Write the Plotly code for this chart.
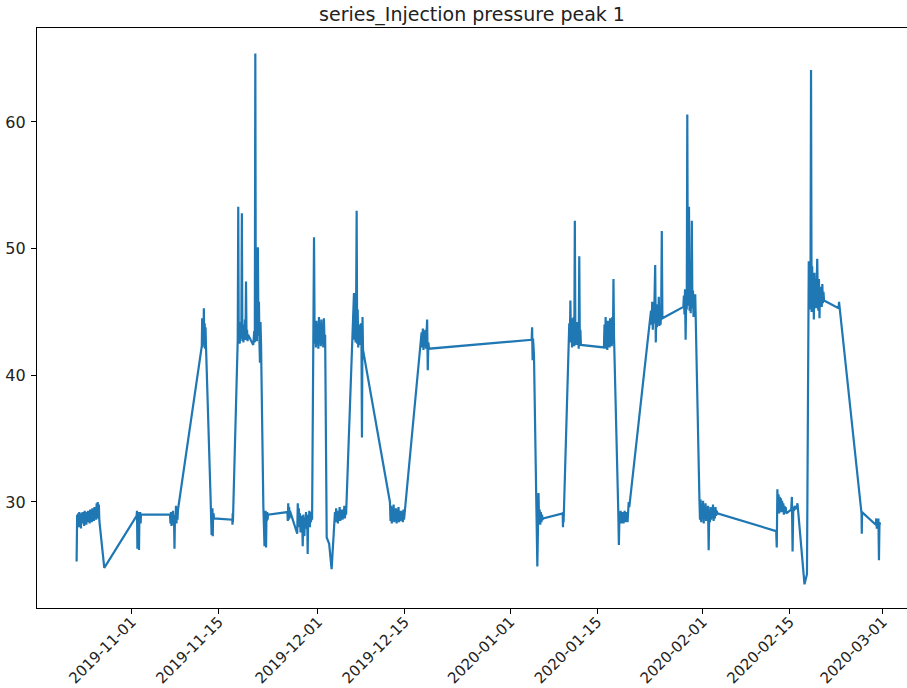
import pandas as pd
import plotly.graph_objects as go

title_text = "series_Injection pressure peak 1"
line_color = "#1f77b4"

# Each run: sensor readings sampled evenly between run_start and run_end
run_start = [
    "2019-10-23 03:00", "2019-10-27 14:00", "2019-11-01 19:00", "2019-11-07 04:00",
    "2019-11-12 07:00", "2019-11-13 17:30", "2019-11-17 05:00", "2019-11-18 02:00",
    "2019-11-20 14:00", "2019-11-22 05:00", "2019-11-26 02:00", "2019-11-27 16:00",
    "2019-11-30 09:00", "2019-12-02 10:00", "2019-12-03 18:00", "2019-12-06 19:30",
    "2019-12-12 14:30", "2019-12-17 17:00", "2020-01-04 10:30", "2020-01-05 08:30",
    "2020-01-09 10:30", "2020-01-10 12:00", "2020-01-16 02:00", "2020-01-18 09:30",
    "2020-01-23 16:00", "2020-01-28 21:00", "2020-01-31 11:00", "2020-02-12 20:00",
    "2020-02-15 06:00", "2020-02-17 09:30", "2020-02-18 02:00", "2020-02-22 21:30",
    "2020-02-26 14:00", "2020-02-28 21:00",
]
run_end = [
    "2019-10-26 19:00", "2019-10-27 14:00", "2019-11-02 12:00", "2019-11-08 11:00",
    "2019-11-12 23:00", "2019-11-14 06:00", "2019-11-17 08:00", "2019-11-19 18:00",
    "2019-11-21 20:00", "2019-11-22 23:00", "2019-11-26 12:00", "2019-11-30 01:30",
    "2019-12-02 04:00", "2019-12-03 05:00", "2019-12-05 13:00", "2019-12-08 06:30",
    "2019-12-14 21:00", "2019-12-18 21:30", "2020-01-04 19:30", "2020-01-06 07:00",
    "2020-01-09 14:00", "2020-01-12 09:00", "2020-01-17 17:00", "2020-01-20 04:00",
    "2020-01-25 12:00", "2020-01-30 19:00", "2020-02-03 08:30", "2020-02-14 11:00",
    "2020-02-16 09:00", "2020-02-17 19:00", "2020-02-20 13:00", "2020-02-22 23:00",
    "2020-02-26 16:00", "2020-02-29 13:30",
]
run_values = [
    [25.3, 29.0, 28.2, 29.1, 28.0, 29.2, 28.4, 29.0, 27.9, 29.1, 28.3, 29.2, 28.5, 29.0,
     28.1, 29.3, 28.6, 29.1, 28.2, 29.2, 28.4, 29.3, 28.7, 29.1, 28.3, 29.4, 28.6, 29.2,
     28.4, 29.5, 28.7, 29.3, 28.5, 29.6, 28.8, 29.4, 28.6, 29.9, 28.9, 30.0, 28.7, 29.8, 28.5],
    [24.8],
    [28.9, 29.3, 26.3, 29.1, 28.2, 29.2, 26.2, 28.9, 28.4, 29.2, 28.3, 29.0],
    [29.0, 28.3, 29.2, 28.1, 29.0, 28.4, 29.3, 28.2, 28.9, 26.3, 29.0, 28.5, 29.7, 28.3,
     29.5, 28.6, 29.4],
    [42.3, 44.5, 42.2, 44.3, 42.6, 45.3, 42.4, 44.1, 42.1, 43.8, 42.5],
    [30.0, 28.2, 29.6, 27.4, 29.2, 28.3, 29.5, 27.3, 28.9, 28.6, 29.1, 28.7],
    [28.6, 28.2, 29.1, 28.4, 28.9],
    [42.8, 53.3, 42.6, 43.8, 42.5, 44.2, 42.9, 43.5, 52.8, 42.7, 44.0, 42.6, 43.7, 42.9,
     44.4, 42.8, 47.4, 42.9, 43.6, 42.7, 43.2],
    [42.4, 42.9, 43.5, 42.6, 65.4, 43.0, 44.8, 42.7, 46.0, 50.1, 43.1, 45.8, 42.5, 41.0,
     44.2, 42.6],
    [29.7, 28.3, 29.4, 26.5, 29.1, 28.0, 29.3, 26.4, 28.8, 28.5, 29.2, 28.6, 29.0],
    [29.2, 28.5, 29.9, 28.6, 29.6, 28.7, 29.3],
    [27.5, 29.9, 28.0, 29.5, 28.3, 29.1, 27.6, 28.9, 28.2, 28.7, 26.5, 29.0, 28.1, 27.3,
     28.8, 27.9, 29.2, 28.2, 29.0, 25.9, 28.9, 28.3, 29.3, 28.0, 29.1, 28.4, 29.2, 28.6],
    [50.9, 42.5, 43.9, 42.2, 44.3, 42.6, 43.5, 42.1, 44.6, 42.8, 43.7, 42.3, 44.4, 42.5,
     43.9, 42.2, 44.5, 42.7, 43.2],
    [27.2, 26.7, 24.7],
    [29.2, 28.4, 29.5, 28.6, 29.3, 28.3, 29.1, 28.7, 29.6, 28.5, 29.2, 28.8, 29.4, 28.6,
     29.3, 28.9, 29.7, 28.7, 29.5, 29.0],
    [46.5, 42.8, 44.9, 42.6, 45.3, 53.0, 42.5, 45.2, 42.2, 44.0, 42.7, 43.6, 42.4, 44.1,
     42.9, 35.1, 44.6, 42.0],
    [30.0, 28.5, 29.7, 28.3, 29.4, 28.6, 29.8, 28.4, 29.2, 28.7, 29.5, 28.3, 29.0, 28.6,
     29.6, 28.4, 29.1, 28.5, 29.3, 28.8, 29.0, 28.4, 29.4, 28.6],
    [43.4, 42.2, 43.7, 42.0, 43.5, 42.4, 43.6, 42.1, 43.3, 44.4, 40.4, 42.6, 42.1],
    [42.8, 43.8, 41.2, 42.9, 42.4, 41.6],
    [24.9, 28.5, 30.7, 28.3, 29.4, 28.2, 29.2, 28.4, 29.0, 28.6, 28.7],
    [29.1, 28.0, 29.2, 28.4],
    [44.1, 42.6, 45.9, 43.0, 44.5, 42.2, 43.8, 42.7, 44.6, 42.3, 52.2, 42.9, 43.9, 42.4,
     44.2, 42.6, 43.5, 42.1, 49.4, 42.8, 43.6, 42.4],
    [42.2, 44.0, 42.1, 44.6, 42.5, 43.8, 42.0, 44.3, 42.7, 43.5, 42.2, 44.5, 42.4, 43.9,
     42.3, 44.6, 42.5, 47.6, 43.0],
    [29.2, 26.6, 28.9, 28.4, 29.3, 28.3, 29.1, 28.5, 29.2, 28.3, 28.8, 29.3, 28.4, 29.0,
     28.6, 29.2, 28.4, 28.9, 30.0, 29.6],
    [45.1, 44.0, 45.8, 43.6, 45.3, 44.1, 45.9, 48.7, 42.6, 45.0, 43.8, 45.6, 44.2, 46.2,
     43.9, 45.4, 44.0, 45.1, 51.4, 44.5],
    [45.4, 46.3, 44.8, 46.8, 42.8, 46.0, 45.2, 60.6, 45.5, 46.6, 53.3, 45.1, 46.9, 44.9,
     46.2, 52.2, 45.3, 46.7, 44.6, 46.1, 45.4, 46.4],
    [30.4, 28.6, 30.2, 28.4, 29.8, 28.9, 30.1, 28.3, 29.6, 28.7, 29.9, 28.5, 29.4, 28.8,
     29.7, 26.2, 29.3, 28.4, 29.6, 28.6, 29.2, 28.9, 29.8, 28.5, 29.4, 28.7, 29.6, 28.9,
     29.3, 29.1],
    [27.7, 26.4, 31.0, 29.3, 30.6, 29.1, 30.4, 29.5, 30.3, 29.2, 30.1, 29.4, 29.9, 29.0,
     29.7, 29.3, 29.6, 29.1],
    [29.4, 30.4, 26.1, 29.6, 29.3, 29.7, 29.4, 29.6, 29.5, 29.9, 29.2],
    [23.5, 24.3],
    [49.0, 45.2, 47.8, 45.9, 64.1, 45.0, 48.6, 45.6, 47.3, 44.4, 48.1, 45.9, 47.5, 45.3,
     48.4, 49.2, 46.0, 45.1, 47.6, 44.5, 47.0, 45.8, 46.9, 45.4, 47.2, 45.7, 46.6, 45.9],
    [45.3, 45.8],
    [29.1, 27.5, 29.2],
    [28.2, 28.7, 27.9, 28.6, 28.0, 28.7, 25.4, 28.4, 28.2],
]

tick_dates = ["2019-11-01", "2019-11-15", "2019-12-01", "2019-12-15", "2020-01-01",
              "2020-01-15", "2020-02-01", "2020-02-15", "2020-03-01"]
y_ticks = [30, 40, 50, 60]

x_range = ["2019-10-16 17:50", "2020-03-04 21:50"]
y_range = [21.63, 67.42]

times = []
values = []
for s, e, vals in zip(run_start, run_end, run_values):
    if len(vals) == 1:
        ts = [pd.Timestamp(s)]
    else:
        ts = list(pd.date_range(s, e, periods=len(vals)))
    times.extend(ts)
    values.extend(vals)

fig = go.Figure()
fig.add_trace(go.Scatter(x=times, y=values, mode="lines",
                         line=dict(color=line_color, width=2.2),
                         showlegend=False, hoverinfo="skip"))

font_family = "DejaVu Sans"
axis_common = dict(
    showline=True, linecolor="black", linewidth=1.2,
    ticks="outside", ticklen=5, tickwidth=1.2, tickcolor="black",
    showgrid=False, zeroline=False, automargin=False,
)
fig.update_layout(
    width=907, height=688, autosize=False,
    paper_bgcolor="white", plot_bgcolor="white",
    margin=dict(l=37, r=0, t=28, b=80, pad=0),
    title=dict(text=title_text, x=472 / 907, xanchor="center", xref="container",
               y=1 - 14 / 688, yanchor="middle", yref="container",
               font=dict(family=font_family, size=19, color="#222")),
    xaxis=dict(type="date", range=x_range, tickvals=tick_dates, ticktext=tick_dates,
               tickangle=-45, mirror=True, ticklabelstandoff=-7,
               tickfont=dict(family=font_family, size=15, color="#222"),
               **axis_common),
    yaxis=dict(range=y_range, tickvals=y_ticks, ticktext=[str(v) for v in y_ticks],
               mirror=False, ticklabelstandoff=2,
               tickfont=dict(family=font_family, size=16, color="#222"),
               **axis_common),
)

fig.write_html("out.html")
